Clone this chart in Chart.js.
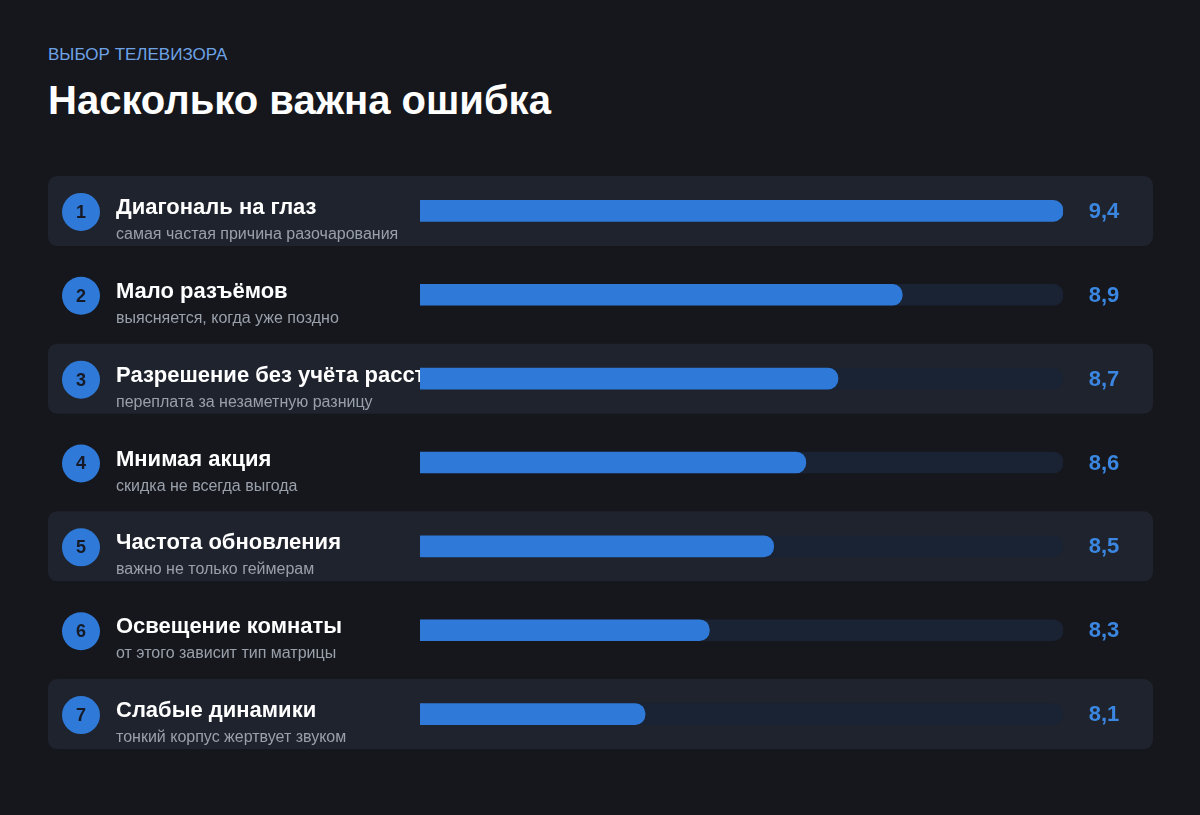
<!DOCTYPE html>
<html><head><meta charset="utf-8">
<script src="https://cdn.jsdelivr.net/npm/chart.js@4/dist/chart.umd.min.js"></script>
<style>
html,body{margin:0;background:#15171d;}
#wrap{position:relative;width:1200px;height:815px;}
.kick{position:absolute;left:48px;top:45px;color:#6ea3e6;font:17px "Liberation Sans",Arial,sans-serif;}
.ttl{position:absolute;left:48px;top:78px;color:#fff;font:bold 40px "Liberation Sans",Arial,sans-serif;}
canvas{position:absolute;left:0;top:0;}
</style></head><body>
<div id="wrap">
<div class="kick">ВЫБОР ТЕЛЕВИЗОРА</div>
<div class="ttl">Насколько важна ошибка</div>
<canvas id="chart" width="1200" height="815"></canvas>
</div>
<script>
// chart data
var titles = ["Диагональ на глаз","Мало разъёмов","Разрешение без учёта расстояния","Мнимая акция","Частота обновления","Освещение комнаты","Слабые динамики"];
var notes = ["самая частая причина разочарования","выясняется, когда уже поздно","переплата за незаметную разницу","скидка не всегда выгода","важно не только геймерам","от этого зависит тип матрицы","тонкий корпус жертвует звуком"];
var scores = [9.4,8.9,8.7,8.6,8.5,8.3,8.1];
var axisMin = 7.4, axisMax = 9.4;

var FONT = '"Liberation Sans", Arial, sans-serif';

function roundRect(ctx, x, y, w, h, r) {
  ctx.beginPath();
  ctx.moveTo(x + r, y);
  ctx.arcTo(x + w, y, x + w, y + h, r);
  ctx.arcTo(x + w, y + h, x, y + h, r);
  ctx.arcTo(x, y + h, x, y, r);
  ctx.arcTo(x, y, x + w, y, r);
  ctx.closePath();
}

// row backgrounds, badges and labels go under the bars
var rowsPlugin = {
  id: 'rows',
  beforeDatasetsDraw: function(chart) {
    var ctx = chart.ctx, y = chart.scales.y;
    ctx.save();
    titles.forEach(function(t, i) {
      var cy = y.getPixelForValue(i);
      if (i % 2 == 0) {
        ctx.fillStyle = '#1f232d';
        roundRect(ctx, 48, cy - 35, 1105, 70, 9);
        ctx.fill();
      }
      ctx.fillStyle = '#2f7ad8';
      ctx.beginPath(); ctx.arc(81, cy + 1, 19, 0, Math.PI * 2); ctx.fill();
      ctx.fillStyle = '#151a26';
      ctx.font = 'bold 18px ' + FONT;
      ctx.textAlign = 'center'; ctx.textBaseline = 'middle';
      ctx.fillText(String(i + 1), 81, cy + 2);
      ctx.textAlign = 'left'; ctx.textBaseline = 'alphabetic';
      ctx.fillStyle = '#ffffff';
      ctx.font = 'bold 22px ' + FONT;
      ctx.fillText(t, 116, cy + 3);
      ctx.fillStyle = '#9aa0aa';
      ctx.font = '16px ' + FONT;
      ctx.fillText(notes[i], 116, cy + 28);
    });
    ctx.restore();
  },
  afterDatasetsDraw: function(chart) {
    var ctx = chart.ctx, y = chart.scales.y;
    ctx.save();
    ctx.fillStyle = '#3a86e0';
    ctx.font = 'bold 22px ' + FONT;
    ctx.textAlign = 'center'; ctx.textBaseline = 'middle';
    scores.forEach(function(s, i) {
      ctx.fillText(s.toFixed(1).replace('.', ','), 1104, y.getPixelForValue(i) + 1);
    });
    ctx.restore();
  }
};

var ctx = document.getElementById('chart').getContext('2d');
var chart = new Chart(ctx, {
  type: 'bar',
  data: {
    labels: titles,
    datasets: [
      {
        data: scores,
        backgroundColor: '#2f7ad8',
        borderRadius: 10,
        borderSkipped: false,
        barThickness: 21,
        grouped: false,
        order: 1
      },
      {
        data: scores.map(function() { return axisMax; }),
        backgroundColor: '#1a2334',
        borderRadius: 10,
        borderSkipped: false,
        barThickness: 21,
        grouped: false,
        order: 2
      }
    ]
  },
  options: {
    indexAxis: 'y',
    responsive: false,
    animation: false,
    layout: { padding: { left: 420, right: 137, top: 169, bottom: 59 } },
    scales: {
      x: { min: axisMin, max: axisMax, display: false },
      y: { display: false }
    },
    plugins: { legend: { display: false }, tooltip: { enabled: false } }
  },
  plugins: [rowsPlugin]
});
</script>
</body></html>
